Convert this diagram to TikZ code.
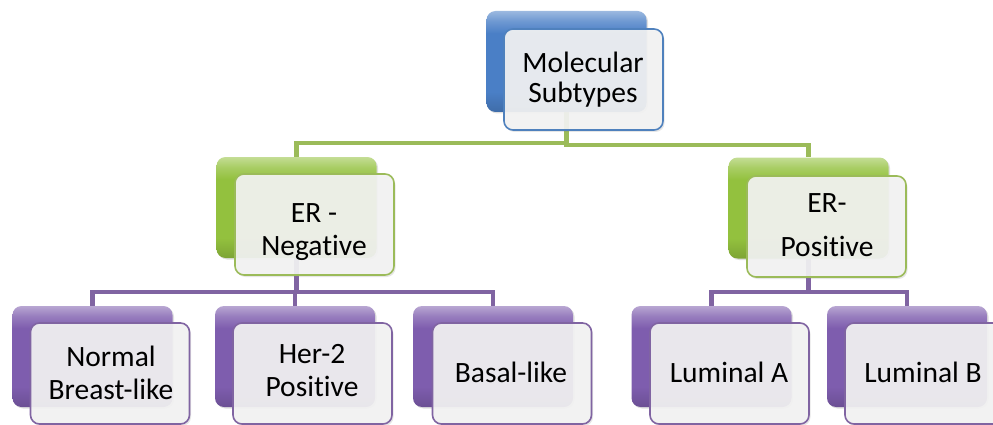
\documentclass[tikz,border=0pt]{standalone}
\usepackage{fontspec}
\setmainfont[Ligatures={NoCommon}]{Carlito}
\usetikzlibrary{shadows}
\definecolor{cblue}{HTML}{4A7FC6}
\definecolor{cgreen}{HTML}{93C13E}
\definecolor{cpurple}{HTML}{7E5DAE}
\definecolor{lblue}{HTML}{4F81BD}
\definecolor{lgreen}{HTML}{9BBB59}
\definecolor{lpurple}{HTML}{8064A2}
\definecolor{paper}{HTML}{F3F3F3}
\pgfdeclareverticalshading{glosscblue}{100bp}{color(0bp)=(cblue!85!black); color(25bp)=(cblue!85!black); color(35bp)=(cblue); color(64bp)=(cblue); color(70bp)=(cblue!80!white); color(75bp)=(cblue!55!white); color(100bp)=(cblue!55!white)}
\pgfdeclareverticalshading{glosscgreen}{100bp}{color(0bp)=(cgreen!85!black); color(25bp)=(cgreen!85!black); color(35bp)=(cgreen); color(64bp)=(cgreen); color(70bp)=(cgreen!80!white); color(75bp)=(cgreen!55!white); color(100bp)=(cgreen!55!white)}
\pgfdeclareverticalshading{glosscpurple}{100bp}{color(0bp)=(cpurple!85!black); color(25bp)=(cpurple!85!black); color(35bp)=(cpurple); color(64bp)=(cpurple); color(70bp)=(cpurple!80!white); color(75bp)=(cpurple!55!white); color(100bp)=(cpurple!55!white)}
\pgfdeclarelayer{bg}
\pgfsetlayers{bg,main}
\tikzset{
  backbox/.style={rounded corners=9pt, minimum width=160pt, minimum height=101pt, inner sep=0pt,
    shading=gloss#1,
    drop shadow={opacity=0.25,shadow xshift=1.5pt,shadow yshift=-1.5pt}},
  frontbox/.style={rounded corners=9pt, minimum width=159pt, minimum height=101pt, inner sep=0pt,
    draw=#1, line width=1.6pt, fill=paper, fill opacity=0.92,
    drop shadow={opacity=0.2,shadow xshift=1.5pt,shadow yshift=-2pt}},
  txt/.style={inner sep=0pt, align=center, font=\fontsize{29.5}{30}\selectfont, text=black},
  conn/.style={line width=4.5pt, draw=#1},
}
\begin{document}
\begin{tikzpicture}[x=1pt,y=-1pt]
\useasboundingbox (0,0) rectangle (993,425);
% level 0
\node[backbox=cblue] (topB) at (566.5,61.5) {};
\node[frontbox=lblue] (top) at (583.5,79.5) {};
\node[txt] (tTop) at (583,80) {Molecular\\Subtypes};
% level 1
\node[backbox=cgreen] (erNB) at (296.5,207.5) {};
\node[frontbox=lgreen] (erN) at (314.5,224.5) {};
\node[txt] (tErN) at (314,232) {ER -\\[3pt]Negative};
\node[backbox=cgreen] (erPB) at (808.5,208) {};
\node[frontbox=lgreen] (erP) at (826.5,226.5) {};
\node[txt] (tErP) at (827,225.5) {ER-\\[14pt]Positive};
% level 2
\node[backbox=cpurple] (nbB) at (92.5,356.5) {};
\node[frontbox=lpurple] (nb) at (110,373.5) {};
\node[txt] (tNb) at (111,372.5) {Normal\\[3pt]Breast-like};
\node[backbox=cpurple] (h2B) at (295,356.5) {};
\node[frontbox=lpurple] (h2) at (312.5,373.5) {};
\node[txt] (tH2) at (312,371) {Her-2\\[3pt]Positive};
\node[backbox=cpurple] (baB) at (493,356.5) {};
\node[frontbox=lpurple] (ba) at (512,373.5) {};
\node[txt] (tBa) at (511,372) {Basal-like};
\node[backbox=cpurple] (laB) at (711.5,356.5) {};
\node[frontbox=lpurple] (la) at (729.5,373.5) {};
\node[txt] (tLa) at (729,372) {Luminal A};
\node[backbox=cpurple] (lbB) at (907,356.5) {};
\node[frontbox=lpurple] (lb) at (924.5,373.5) {};
\node[txt] (tLb) at (923,372) {Luminal B};
% connectors
\coordinate (busL) at (0,143);
\coordinate (busR) at (0,145);
\coordinate (bus2) at (0,292);
\begin{pgfonlayer}{bg}
\draw[conn=lgreen] (topB.south) -- (topB.south |- busL) -| (erNB.north);
\draw[conn=lgreen] (topB.south) -- (topB.south |- busR) -| (erPB.north);
\draw[conn=lpurple] (erNB.south) -- (erNB.south |- bus2) -| (nbB.north);
\draw[conn=lpurple] (erNB.south) -- (erNB.south |- bus2) -| (h2B.north);
\draw[conn=lpurple] (erNB.south) -- (erNB.south |- bus2) -| (baB.north);
\draw[conn=lpurple] (erPB.south) -- (erPB.south |- bus2) -| (laB.north);
\draw[conn=lpurple] (erPB.south) -- (erPB.south |- bus2) -| (lbB.north);
\end{pgfonlayer}
\end{tikzpicture}
\end{document}
